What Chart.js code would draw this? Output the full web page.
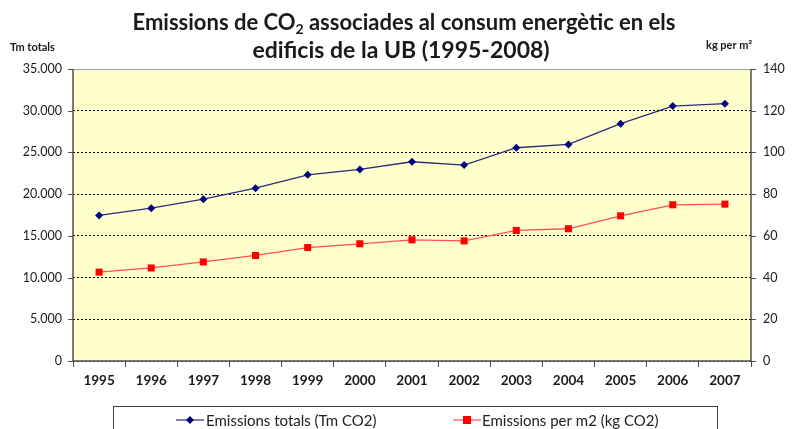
<!DOCTYPE html>
<html>
<head>
<meta charset="utf-8">
<script src="https://cdn.jsdelivr.net/npm/chart.js@4/dist/chart.umd.min.js"></script>
<style>
html,body{margin:0;padding:0;background:#fff;}
#wrap{width:800px;height:429px;position:relative;}
</style>
</head>
<body>
<div id="wrap"><canvas id="c" width="800" height="429"></canvas></div>
<script>
const years = ['1995','1996','1997','1998','1999','2000','2001','2002','2003','2004','2005','2006','2007'];
const totalEmissions = [17450, 18320, 19400, 20720, 22320, 22960, 23880, 23480, 25560, 25960, 28440, 30560, 30840];
const perM2Emissions = [42.6, 44.6, 47.5, 50.6, 54.4, 56.2, 58.1, 57.6, 62.6, 63.4, 69.6, 74.9, 75.2];
const leftTicks = [0, 5000, 10000, 15000, 20000, 25000, 30000, 35000];
const rightTicks = [0, 20, 40, 60, 80, 100, 120, 140];
const seriesNames = ['Emissions totals (Tm CO2)', 'Emissions per m2 (kg CO2)'];
const titleLines = ['Emissions de CO', '2', ' associades al consum energètic en els', 'edificis de la UB (1995-2008)'];
const leftAxisTitle = 'Tm totals';
const rightAxisTitle = 'kg per m²';

const FONT = 'Lato, "Open Sans", sans-serif';
const fmt = v => v.toString().replace(/\B(?=(\d{3})+(?!\d))/g, '.');

const decor = {
  id: 'decor',
  beforeDraw(chart) {
    const {ctx, chartArea: a} = chart;
    ctx.save();
    ctx.fillStyle = '#FFFFCC';
    ctx.fillRect(a.left, a.top, a.right - a.left, a.bottom - a.top);
    ctx.restore();
  },
  afterDraw(chart) {
    const {ctx, chartArea: a} = chart;
    const yL = chart.scales.y, yR = chart.scales.y1;
    ctx.save();
    ctx.strokeStyle = '#a0a0a0';
    ctx.lineWidth = 1;
    ctx.beginPath(); ctx.moveTo(a.left, a.top + 0.5); ctx.lineTo(a.right, a.top + 0.5); ctx.stroke();
    ctx.strokeStyle = '#505050';
    ctx.lineWidth = 1.5;
    ctx.beginPath();
    ctx.moveTo(a.left, a.top); ctx.lineTo(a.left, a.bottom);
    ctx.moveTo(a.right, a.top); ctx.lineTo(a.right, a.bottom);
    ctx.moveTo(a.left, a.bottom); ctx.lineTo(a.right, a.bottom);
    ctx.stroke();
    ctx.lineWidth = 1;
    ctx.beginPath();
    leftTicks.forEach(v => { const p = Math.round(yL.getPixelForValue(v)) + 0.5; ctx.moveTo(a.left - 5, p); ctx.lineTo(a.left, p); });
    rightTicks.forEach(v => { const p = Math.round(yR.getPixelForValue(v)) + 0.5; ctx.moveTo(a.right, p); ctx.lineTo(a.right + 5, p); });
    ctx.stroke();

    // title
    ctx.fillStyle = '#1a1a1a';
    ctx.textBaseline = 'alphabetic';
    const big = 'bold 22px ' + FONT, small = 'bold 14px ' + FONT;
    ctx.font = big;
    const w0 = ctx.measureText(titleLines[0]).width;
    const w2 = ctx.measureText(titleLines[2]).width;
    ctx.font = small;
    const w1 = ctx.measureText(titleLines[1]).width;
    let x = 404 - (w0 + w1 + w2) / 2;
    const y1 = 30;
    ctx.textAlign = 'left';
    ctx.font = big; ctx.fillText(titleLines[0], x, y1); x += w0;
    ctx.font = small; ctx.fillText(titleLines[1], x, y1 + 4); x += w1;
    ctx.font = big; ctx.fillText(titleLines[2], x, y1);
    ctx.textAlign = 'center';
    ctx.font = 'bold 23px ' + FONT;
    ctx.fillText(titleLines[3], 401, 58);

    // axis titles
    ctx.font = 'bold 11px ' + FONT;
    ctx.textAlign = 'left';
    ctx.fillText(leftAxisTitle, 10, 51);
    ctx.fillText(rightAxisTitle, 706, 49);

    // legend
    ctx.strokeStyle = '#404040';
    ctx.lineWidth = 1;
    ctx.strokeRect(113.5, 406.5, 604, 40);
    ctx.font = '15px ' + FONT;
    ctx.textBaseline = 'middle';
    ctx.textAlign = 'left';
    const ly = 420;
    const ds = chart.data.datasets;
    const items = [{x0: 176, x1: 204, tx: 206}, {x0: 453, x1: 481, tx: 482}];
    items.forEach((it, i) => {
      const d = ds[i];
      ctx.strokeStyle = d.borderColor; ctx.lineWidth = 1.2;
      ctx.beginPath(); ctx.moveTo(it.x0, ly); ctx.lineTo(it.x1, ly); ctx.stroke();
      const cx = (it.x0 + it.x1) / 2;
      ctx.fillStyle = d.pointBackgroundColor;
      if (i === 0) {
        ctx.beginPath(); ctx.moveTo(cx, ly - 4); ctx.lineTo(cx + 4, ly); ctx.lineTo(cx, ly + 4); ctx.lineTo(cx - 4, ly); ctx.closePath(); ctx.fill();
      } else {
        ctx.fillRect(cx - 4, ly - 4, 8, 8);
      }
      ctx.fillStyle = '#222';
      ctx.fillText(seriesNames[i], it.tx, ly + 1);
    });
    ctx.restore();
  }
};

new Chart(document.getElementById('c'), {
  type: 'line',
  data: {
    labels: years,
    datasets: [
      {
        label: seriesNames[0], data: totalEmissions, yAxisID: 'y',
        borderColor: '#2a2a7a', backgroundColor: '#000080', pointBackgroundColor: '#000080',
        pointBorderColor: '#000080', borderWidth: 1.3, pointStyle: 'rectRot', pointRadius: 4, pointBorderWidth: 0,
        tension: 0
      },
      {
        label: seriesNames[1], data: perM2Emissions, yAxisID: 'y1',
        borderColor: '#ff5050', backgroundColor: '#ff0000', pointBackgroundColor: '#ff0000',
        pointBorderColor: '#ff0000', borderWidth: 1.3, pointStyle: 'rect', pointRadius: 5, pointBorderWidth: 0,
        tension: 0
      }
    ]
  },
  options: {
    responsive: false,
    animation: false,
    layout: {padding: {top: 69, left: 0, right: 0, bottom: 0}},
    plugins: {legend: {display: false}, title: {display: false}, tooltip: {enabled: false}},
    scales: {
      x: {
        type: 'category', offset: true,
        grid: {offset: true, drawOnChartArea: false, drawTicks: true, tickLength: 6, color: '#505050'},
        border: {display: false},
        ticks: {color: '#1a1a1a', font: {family: FONT, size: 13.5, weight: 'bold'}, padding: 6, maxRotation: 0, autoSkip: false},
        afterFit(s) { s.height = 68; }
      },
      y: {
        position: 'left', min: 0, max: 35000,
        afterBuildTicks(s) { s.ticks = leftTicks.map(v => ({value: v})); },
        grid: {color: '#000000', lineWidth: 1, drawTicks: false},
        border: {display: false, dash: [2, 2]},
        ticks: {color: '#1a1a1a', font: {family: FONT, size: 12.5}, padding: 11, callback: v => fmt(v)},
        afterFit(s) { s.width = 73; }
      },
      y1: {
        position: 'right', min: 0, max: 140,
        afterBuildTicks(s) { s.ticks = rightTicks.map(v => ({value: v})); },
        grid: {drawOnChartArea: false, drawTicks: false},
        border: {display: false},
        ticks: {color: '#1a1a1a', font: {family: FONT, size: 12.5}, padding: 12},
        afterFit(s) { s.width = 49; }
      }
    }
  },
  plugins: [decor]
});
</script>
</body>
</html>
